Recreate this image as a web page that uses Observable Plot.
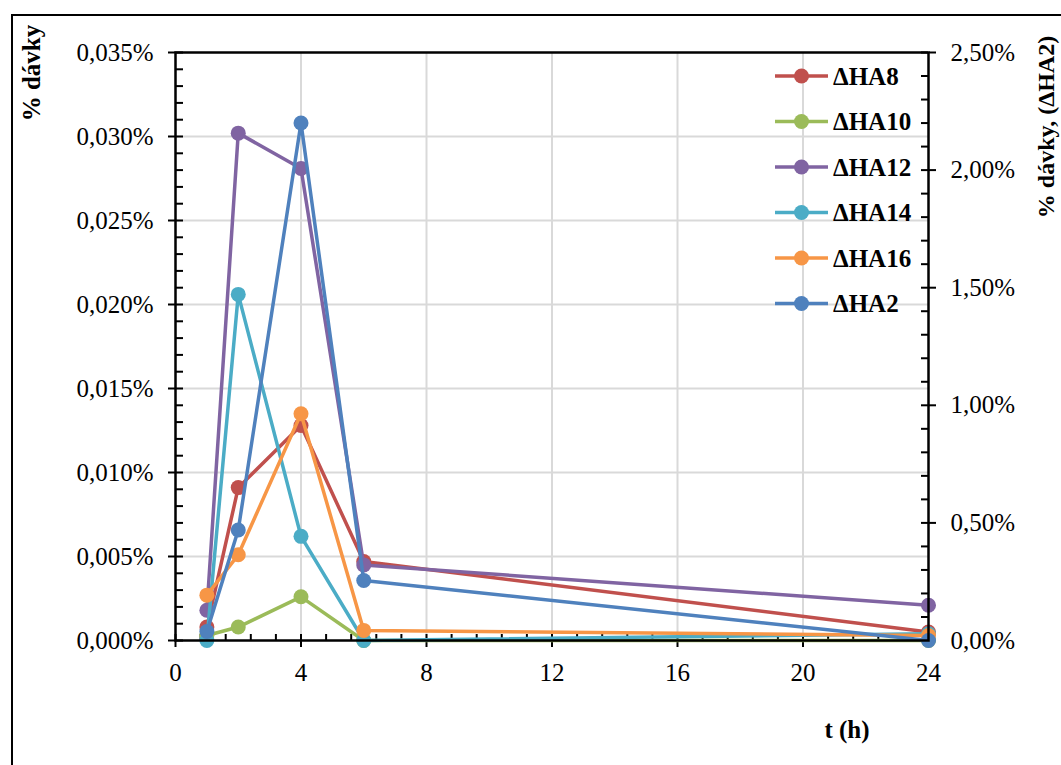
<!DOCTYPE html>
<html>
<head>
<meta charset="utf-8">
<script src="https://cdn.jsdelivr.net/npm/d3@7"></script>
<script src="https://cdn.jsdelivr.net/npm/@observablehq/plot@0.6"></script>
<style>
  html, body { margin: 0; padding: 0; background: #fff; }
  #wrap { position: relative; width: 1061px; height: 765px; overflow: hidden; }
  #border { position: absolute; left: 11px; top: 14px; width: 1200px; height: 900px;
            border-left: 2px solid #000; border-top: 2px solid #000; }
  #chart { position: absolute; left: 0; top: 0; }
</style>
</head>
<body>
<div id="wrap"><div id="border"></div><div id="chart"></div></div>
<script>
// ---- data (values in % of dose) ----
const times = [1, 2, 4, 6, 24];
const seriesNames = ["ΔHA8", "ΔHA10", "ΔHA12", "ΔHA14", "ΔHA16", "ΔHA2"];
const seriesColors = ["#C0504D", "#9BBB59", "#8064A2", "#4BACC6", "#F79646", "#4F81BD"];
const HA8  = [0.0008, 0.0091, 0.0128, 0.0047, 0.0005];
const HA10 = [0.0003, 0.0008, 0.0026, 0.0000, 0.0000];
const HA12 = [0.0018, 0.0302, 0.0281, 0.0045, 0.0021];
const HA14 = [0.0000, 0.0206, 0.0062, 0.0000, 0.0004];
const HA16 = [0.0027, 0.0051, 0.0135, 0.0006, 0.0003];
const HA2  = [0.038, 0.47, 2.20, 0.255, 0.000];   // secondary (right) axis
// ---- ticks ----
const leftTicks  = [0, 0.005, 0.010, 0.015, 0.020, 0.025, 0.030, 0.035];
const leftMinor  = [0,0.001,0.002,0.003,0.004,0.005,0.006,0.007,0.008,0.009,0.010,0.011,0.012,0.013,0.014,0.015,0.016,0.017,0.018,0.019,0.020,0.021,0.022,0.023,0.024,0.025,0.026,0.027,0.028,0.029,0.030,0.031,0.032,0.033,0.034,0.035];
const rightTicks = [0, 0.5, 1.0, 1.5, 2.0, 2.5];
const rightMinor = [0,0.1,0.2,0.3,0.4,0.5,0.6,0.7,0.8,0.9,1.0,1.1,1.2,1.3,1.4,1.5,1.6,1.7,1.8,1.9,2.0,2.1,2.2,2.3,2.4,2.5];
const xTicks = [0, 4, 8, 12, 16, 20, 24];
const xMinor = [0,0.8,1.6,2.4,3.2,4,4.8,5.6,6.4,7.2,8,8.8,9.6,10.4,11.2,12,12.8,13.6,14.4,15.2,16,16.8,17.6,18.4,19.2,20,20.8,21.6,22.4,23.2,24];
const gridYTicks = [0.005, 0.010, 0.015, 0.020, 0.025, 0.030];
const gridXTicks = [4, 8, 12, 16, 20];

const leftMax = 0.035, rightMax = 2.5;
const k = leftMax / rightMax; // maps secondary-axis values onto primary scale

const seriesValues = [HA8, HA10, HA12, HA14, HA16, HA2.map(v => v * k)];
const rows = seriesNames.flatMap((name, i) =>
  times.map((t, j) => ({series: name, t, v: seriesValues[i][j]})));

const W = 1061, H = 765, mL = 175, mR = 133, mT = 52, mB = 125;
const plotW = W - mL - mR, plotH = H - mT - mB;
const serif = "'Liberation Serif', 'Times New Roman', serif";
const fmtL = d => d.toFixed(3).replace(".", ",") + "%";
const fmtR = d => (d / k).toFixed(2).replace(".", ",") + "%";

const seriesMarks = seriesNames.flatMap(name => {
  const data = rows.filter(r => r.series === name);
  return [
    Plot.line(data, {x: "t", y: "v", stroke: "series", strokeWidth: 3.5}),
    Plot.dot(data, {x: "t", y: "v", fill: "series", r: 7.5})
  ];
});

const chart = Plot.plot({
  width: W, height: H,
  marginLeft: mL, marginRight: mR, marginTop: mT, marginBottom: mB,
  style: {fontFamily: serif, fontSize: "25px", color: "#000", background: "transparent"},
  x: {domain: [0, 24]},
  y: {domain: [0, leftMax]},
  color: {domain: seriesNames, range: seriesColors},
  marks: [
    Plot.gridY(gridYTicks, {stroke: "#d9d9d9", strokeOpacity: 1, strokeWidth: 2}),
    Plot.gridX(gridXTicks, {stroke: "#d9d9d9", strokeOpacity: 1, strokeWidth: 2}),
    Plot.axisY({ticks: leftTicks, tickFormat: fmtL, tickSize: 7, tickPadding: 15, strokeWidth: 2, label: null}),
    Plot.axisY({anchor: "right", ticks: rightTicks.map(v => v * k), tickFormat: fmtR, tickSize: 7, tickPadding: 15, strokeWidth: 2, label: null}),
    Plot.axisX({ticks: xTicks, tickSize: 7, tickPadding: 16, strokeWidth: 2, label: null}),
    Plot.tickY(leftMinor, {y: d => d, stroke: "#000", strokeWidth: 2, insetRight: plotW - 8}),
    Plot.tickY(rightMinor.map(v => v * k), {y: d => d, stroke: "#000", strokeWidth: 2, insetLeft: plotW - 7}),
    Plot.tickX(xMinor, {x: d => d, stroke: "#000", strokeWidth: 2, insetTop: plotH - 6}),
    ...seriesMarks,
    Plot.frame({stroke: "#000", strokeWidth: 2.5})
  ]
});
document.getElementById("chart").appendChild(chart);

// ---- titles & legend ----
const svg = d3.select(chart);
svg.append("text")
  .attr("transform", "translate(40,73) rotate(-90)")
  .attr("text-anchor", "middle").attr("font-weight", "bold")
  .attr("font-family", serif).attr("font-size", 25)
  .text("% dávky");
svg.append("text")
  .attr("transform", "translate(1054,127) rotate(-90)")
  .attr("text-anchor", "middle").attr("font-weight", "bold")
  .attr("font-family", serif).attr("font-size", 24)
  .text("% dávky, (ΔHA2)");
svg.append("text")
  .attr("x", 847).attr("y", 738)
  .attr("text-anchor", "middle").attr("font-weight", "bold")
  .attr("font-family", serif).attr("font-size", 25)
  .text("t (h)");

const leg = svg.append("g").attr("transform", "translate(775,76)");
seriesNames.forEach((name, i) => {
  const g = leg.append("g").attr("transform", `translate(0,${i * 45.5})`);
  g.append("line").attr("x1", 0).attr("x2", 53).attr("y1", 0).attr("y2", 0)
    .attr("stroke", seriesColors[i]).attr("stroke-width", 3.5);
  g.append("circle").attr("cx", 26.5).attr("cy", 0).attr("r", 7.5).attr("fill", seriesColors[i]);
  g.append("text").attr("x", 58).attr("y", 0).attr("dy", "0.35em")
    .attr("text-anchor", "start")
    .attr("font-weight", "bold").attr("font-family", serif).attr("font-size", 25)
    .text(name);
});
</script>
</body>
</html>
